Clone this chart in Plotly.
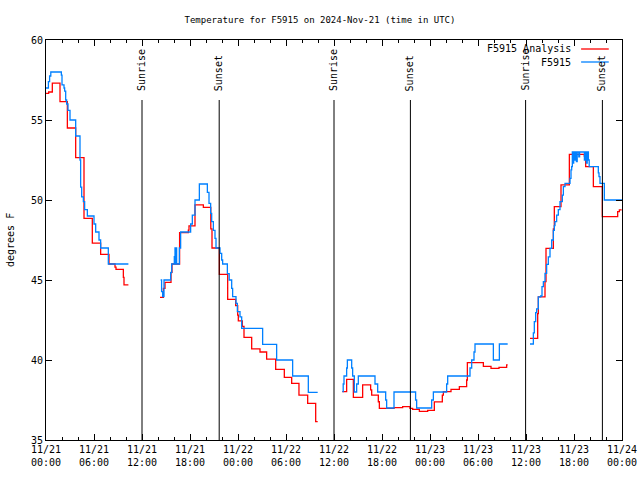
import pandas as pd
import plotly.graph_objects as go

# ---- data (hours since 2024-11-21 00:00 UTC; None = gap) ----
analysis_hours = [
    0.0, 0.33, 0.79, 1.75, 2.67, 3.71, 4.75, 5.79, 6.83, 7.875, 8.625, 8.75, 9.67, 9.75, 10.3, None,
    14.25, 14.67, 14.875, 15.625, 15.75, 16.7, 17.79, 17.875, 18.625, 19.67, 20.6, 20.75, 21.67,
    22.71, 23.71, 23.96, 24.04, 24.54, 24.75, 25.71, 26.75, 27.58, 28.71, 29.79, 30.71, 31.62,
    32.71, 33.71, 33.96, None,
    37.04, 37.58, 38.42, 39.58, 40.58, 40.71, 41.54, 41.67, 43.5, 44.58, 45.5, 45.83, 46.67,
    47.71, 48.54, 49.54, 49.67, 50.625, 51.67, 52.58, 52.67, 54.67, 55.625, 56.625, 57.58, 57.71, None,
    60.5, 61.46, 61.54, 62.375, 62.5, 63.42, 63.54, 64.375, 65.42, 67.29, 67.46, 68.42, 69.54,
    71.46, 71.67, 71.96,
]
analysis_temps = [
    56.67, 56.75, 57.3, 56.15, 54.5, 52.65, 48.85, 47.3, 46.6, 46.0, 45.8, 45.67, 45.17, 44.69, 44.69, None,
    43.92, 44.48, 44.85, 45.48, 46.0, 47.96, 48.12, 48.38, 49.69, 49.54, 48.2, 47.0, 45.35,
    43.79, 43.4, 42.8, 42.45, 42.1, 41.42, 40.69, 40.5, 40.06, 39.42, 38.92, 38.54, 37.81,
    37.29, 36.15, 36.15, None,
    38.02, 38.79, 37.67, 38.44, 38.13, 37.81, 37.39, 36.98, 37.02, 37.08, 36.98, 36.92, 36.79,
    36.85, 37.38, 37.81, 38.02, 38.17, 38.33, 38.75, 39.83, 39.6, 39.48, 39.54, 39.69, 39.69, None,
    41.35, 42.9, 43.94, 44.9, 46.98, 48.2, 49.58, 50.94, 52.85, 52.75, 52.08, 50.83, 48.96,
    49.27, 49.38, 49.38,
]

obs_hours = [
    0.0, 0.3, 0.45, 0.6, 1.92, 2.0, 2.25, 2.33, 2.46, 2.58, 2.75, 3.0, 3.71, 4.25, 4.33, 4.46,
    4.67, 4.83, 5.17, 6.0, 6.21, 6.625, 6.83, 7.79, 10.3, None,
    14.33, 14.45, 14.58, 14.75, 15.58, 15.71, 16.04, 16.125, 16.2, 16.25, 16.33, 16.67, 16.83,
    18.08, 18.29, 18.625, 19.17, 20.17, 20.375, 20.58, 20.71, 20.92, 21.125, 21.25, 21.75, 21.96,
    22.08, 22.67, 22.9, 23.21, 23.33, 23.75, 23.92, 24.25, 24.46, 27.08, 28.83, 30.83, 32.79, 33.96, None,
    37.04, 37.15, 37.25, 37.58, 37.67, 38.21, 38.33, 38.54, 38.83, 39.04, 41.125, 41.46, 42.46,
    42.58, 43.5, 46.2, 46.33, 48.21, 48.42, 50.08, 50.21, 53.0, 53.21, 53.5, 53.625, 55.92, 56.67, 57.71, None,
    60.5, 60.92, 61.04, 61.21, 61.33, 61.54, 61.83, 62.0, 62.17, 62.375, 62.58, 62.79, 63.0, 63.21,
    63.42, 63.54, 63.625, 63.83, 64.04, 64.25, 64.54, 64.67, 64.875, 65.5, 65.625, 65.71, 65.79,
    65.875, 65.96, 66.04, 66.17, 66.3, 66.4, 66.6, 66.7, 67.3, 67.4, 67.55, 67.65, 67.8, 67.9,
    69.04, 69.125, 69.25, 69.79, 72.0,
]
obs_temps = [
    57.0, 57.4, 57.75, 58.0, 57.8, 57.2, 57.0, 56.8, 56.25, 56.0, 55.6, 55.0, 54.0, 52.5, 50.8, 50.2,
    49.9, 49.4, 49.0, 48.5, 48.0, 47.5, 47.0, 46.0, 46.0, None,
    45.0, 44.27, 43.96, 45.0, 45.46, 46.0, 46.46, 47.0, 46.0, 47.0, 46.0, 47.0, 48.0,
    48.5, 49.06, 50.0, 51.0, 50.48, 49.79, 49.17, 48.65, 48.1, 47.6, 47.0, 46.67, 46.25,
    46.0, 45.4, 45.0, 44.48, 43.96, 43.54, 43.02, 42.7, 41.98, 40.98, 40.0, 39.0, 37.98, 37.98, None,
    38.02, 38.5, 39.0, 39.5, 40.0, 39.5, 39.0, 38.0, 38.5, 39.0, 38.5, 38.0, 37.5,
    37.0, 38.0, 37.5, 37.0, 37.5, 38.0, 38.5, 39.0, 39.5, 40.0, 40.5, 41.0, 40.0, 41.0, 41.0, None,
    41.0, 41.7, 42.4, 42.96, 43.2, 43.94, 44.0, 44.58, 44.9, 45.42, 45.98, 46.44, 46.98, 47.5,
    48.1, 48.4, 48.65, 49.06, 49.4, 49.9, 50.31, 50.83, 51.04, 51.35, 51.88, 52.08, 53.0,
    52.3, 53.0, 52.5, 53.0, 52.4, 53.0, 52.7, 53.0, 52.5, 53.0, 52.3, 53.0, 52.5, 52.08,
    51.7, 51.46, 51.04, 50.0, 50.0,
]

sunrise_hours = [12.0, 36.0, 59.95]
sunset_hours = [21.65, 45.55, 69.55]

tick_hours = [0, 6, 12, 18, 24, 30, 36, 42, 48, 54, 60, 66, 72]
tick_labels = ["11/21<br>00:00", "11/21<br>06:00", "11/21<br>12:00", "11/21<br>18:00",
               "11/22<br>00:00", "11/22<br>06:00", "11/22<br>12:00", "11/22<br>18:00",
               "11/23<br>00:00", "11/23<br>06:00", "11/23<br>12:00", "11/23<br>18:00",
               "11/24<br>00:00"]

series_names = ["F5915 Analysis", "F5915"]
series_colors = ["#ff0000", "#0080ff"]

# ---- build ----
base = pd.Timestamp("2024-11-21 00:00:00")


def to_time(hours):
    return [None if h is None else base + pd.Timedelta(hours=h) for h in hours]


FONT = "DejaVu Sans Mono"
fig = go.Figure()
for hrs, vals, name, col in [(analysis_hours, analysis_temps, series_names[0], series_colors[0]),
                             (obs_hours, obs_temps, series_names[1], series_colors[1])]:
    fig.add_trace(go.Scatter(x=to_time(hrs), y=vals, mode="lines", name=name,
                             line=dict(color=col, width=1.3, shape="hv"),
                             connectgaps=False, showlegend=False))

shapes = []
annotations = []
for hrs, label in [(sunrise_hours, "Sunrise"), (sunset_hours, "Sunset")]:
    for h in hrs:
        t = base + pd.Timedelta(hours=h)
        shapes.append(dict(type="line", xref="x", yref="paper", x0=t, x1=t, y0=0, y1=0.85,
                           line=dict(color="black", width=1)))
        annotations.append(dict(x=t, y=0.8675, xref="x", yref="paper", text=label,
                                textangle=-90, showarrow=False, xanchor="center",
                                yanchor="bottom", font=dict(family=FONT, size=10, color="black")))

# manual gnuplot-style key (text left, sample right)
key_y = [0.9775, 0.945]
for name, col, ky in zip(series_names, series_colors, key_y):
    annotations.append(dict(x=0.915, y=ky, xref="paper", yref="paper", text=name,
                            showarrow=False, xanchor="right", yanchor="middle",
                            font=dict(family=FONT, size=10, color="black")))
    shapes.append(dict(type="line", xref="paper", yref="paper", x0=0.929, x1=0.977,
                       y0=ky, y1=ky, line=dict(color=col, width=1.3)))

annotations.append(dict(x=-0.0625, y=0.5, xref="paper", yref="paper", text="degrees F",
                        textangle=-90, showarrow=False, xanchor="center", yanchor="middle",
                        font=dict(family=FONT, size=10, color="black")))

fig.update_layout(
    width=640, height=480,
    margin=dict(l=46, r=18, t=40, b=40, autoexpand=False),
    paper_bgcolor="white", plot_bgcolor="white",
    hovermode=False,
    title=dict(text="Temperature for F5915 on 2024-Nov-21 (time in UTC)", x=0.5, y=0.9583,
               xanchor="center", yanchor="middle",
               font=dict(family=FONT, size=9, color="black")),
    shapes=shapes, annotations=annotations,
    xaxis=dict(range=[base, base + pd.Timedelta(hours=72)], type="date",
               tickvals=[base + pd.Timedelta(hours=h) for h in tick_hours], ticktext=tick_labels,
               ticks="inside", ticklen=6, tickcolor="black", showline=True, linecolor="black",
               linewidth=1, mirror="allticks", showgrid=False, zeroline=False,
               tickfont=dict(family=FONT, size=10, color="black"),
               minor=dict(dtick=2 * 3600 * 1000, ticks="inside", ticklen=3, tickcolor="black",
                          showgrid=False)),
    yaxis=dict(range=[35, 60], dtick=5, tick0=35, ticks="inside", ticklen=6, tickcolor="black",
               showline=True, linecolor="black", linewidth=1, mirror="allticks",
               showgrid=False, zeroline=False,
               tickfont=dict(family=FONT, size=10, color="black")),
)

# remove the page's default 8px body margin so the 640x480 figure fills the window
fig.write_html("out.html", config={"displayModeBar": False},
               post_script="document.body.style.margin='0';")
